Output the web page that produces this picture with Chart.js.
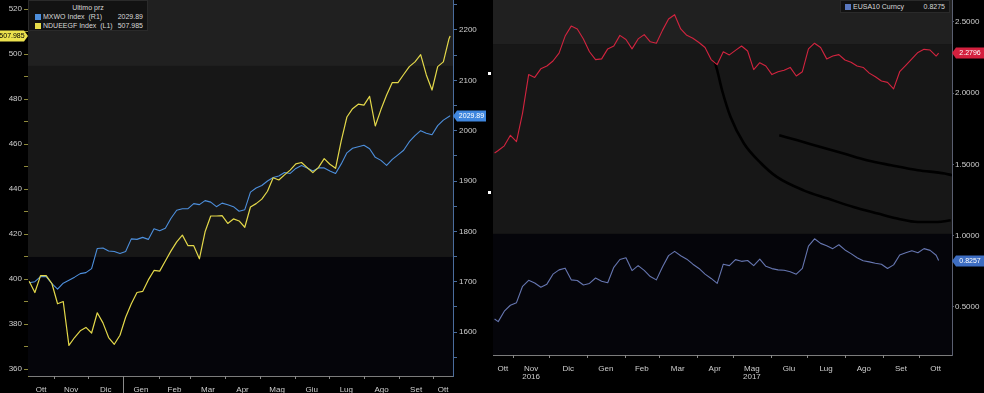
<!DOCTYPE html>
<html><head><meta charset="utf-8">
<title>MXWO / NDUEEGF / EUSA10</title>
<script src="https://cdn.jsdelivr.net/npm/chart.js@4.4.1/dist/chart.umd.min.js"></script>
<style>
html,body{margin:0;padding:0;background:#000;}
body{position:relative;width:984px;height:393px;overflow:hidden;font-family:'Liberation Sans',Arial,sans-serif;}
canvas{position:absolute;top:0;}
#cL{left:0}
#cR{left:492px}
.leg{position:absolute;background:#121212;border:1px solid #2a2a2a;color:#d8d8d8;font-size:7px;line-height:8px;white-space:nowrap;box-sizing:border-box;}
.sq{position:absolute;width:6px;height:6px;}
.t{position:absolute;}
.dot{position:absolute;width:3px;height:3px;background:#fff;}
</style></head><body>
<canvas id="cL" width="492" height="393"></canvas>
<canvas id="cR" width="492" height="393"></canvas>
<div class="leg" style="left:28px;top:0;width:120px;height:31px">
  <div class="t" style="left:0;width:118px;top:3px;text-align:center">Ultimo prz</div>
  <div class="sq" style="left:6px;top:13px;background:#4d8fdc"></div>
  <div class="t" style="left:14px;top:12px">MXWO Index&nbsp;&nbsp;(R1)</div>
  <div class="t" style="right:4px;top:12px">2029.89</div>
  <div class="sq" style="left:6px;top:22px;background:#e6dc4a"></div>
  <div class="t" style="left:14px;top:21px">NDUEEGF Index&nbsp;&nbsp;(L1)</div>
  <div class="t" style="right:4px;top:21px">507.985</div>
</div>
<div class="leg" style="left:840px;top:0;width:110px;height:13px">
  <div class="sq" style="left:4px;top:3px;background:#5a78c0"></div>
  <div class="t" style="left:12px;top:2px">EUSA10 Curncy</div>
  <div class="t" style="right:4px;top:2px">0.8275</div>
</div>
<div class="dot" style="left:488px;top:72px"></div>
<div class="dot" style="left:488px;top:191px"></div>
<script>
// ---------------- data ----------------
const MONTH_LABELS = ['Ott','Nov','Dic','Gen','Feb','Mar','Apr','Mag','Giu','Lug','Ago','Set','Ott'];
const YEAR_LABELS  = ['','2016','','','','','','2017','','','','',''];
const MONTH_STARTS = ['2016-10-01','2016-11-01','2016-12-01','2017-01-01','2017-02-01','2017-03-01','2017-04-01','2017-05-01','2017-06-01','2017-07-01','2017-08-01','2017-09-01','2017-10-01','2017-11-01'];

const NDUEEGF_TICKS = [360,380,400,420,440,460,480,500,520];
const MXWO_TICKS = [1600,1700,1800,1900,2000,2100,2200];
const RATE_TICKS = [0.5,1.0,1.5,2.0,2.5];

const LEFT_DATES = ['2016-10-10','2016-10-15','2016-10-20','2016-10-25','2016-10-30','2016-11-04','2016-11-09','2016-11-14','2016-11-19','2016-11-24','2016-11-29','2016-12-04','2016-12-09','2016-12-14','2016-12-19','2016-12-24','2016-12-29','2017-01-03','2017-01-08','2017-01-13','2017-01-18','2017-01-23','2017-01-28','2017-02-02','2017-02-07','2017-02-12','2017-02-17','2017-02-22','2017-02-27','2017-03-04','2017-03-09','2017-03-14','2017-03-19','2017-03-24','2017-03-29','2017-04-03','2017-04-08','2017-04-13','2017-04-18','2017-04-23','2017-04-28','2017-05-03','2017-05-08','2017-05-13','2017-05-18','2017-05-23','2017-05-28','2017-06-02','2017-06-07','2017-06-12','2017-06-17','2017-06-22','2017-06-27','2017-07-02','2017-07-07','2017-07-12','2017-07-17','2017-07-22','2017-07-27','2017-08-01','2017-08-06','2017-08-11','2017-08-16','2017-08-21','2017-08-26','2017-08-31','2017-09-05','2017-09-10','2017-09-15','2017-09-20','2017-09-25','2017-09-30','2017-10-05','2017-10-10','2017-10-15','2017-10-16'];

const NDUEEGF = [399,394,401.5,401.5,398,389,390,370.5,374,377,378.5,376,385,380.5,374,371,375,383,389,394,394.5,399.6,403.8,403.5,408,412.5,416.5,419.5,414.8,414.8,409,421,428,428,428.2,424.7,426.7,425.8,423,432,433.5,435.5,439,445,444,446.3,448.4,451.2,451.8,449.5,447.3,449.6,453.5,451,449.2,461.4,472,475.7,477.7,477.3,481.2,468,475.3,481.8,487.3,487.3,490.9,494.4,496.5,499.7,490.7,484,494.4,496.5,506.8,507.985];

const MXWO = [1698,1700,1710,1710,1696,1685,1697,1703,1709,1716,1718,1726,1766,1767,1761,1760,1756,1760,1785,1784,1788,1784,1805,1801,1806,1826,1842,1845,1845,1855,1853,1861,1858,1849,1856,1853,1849,1840,1843,1878,1886,1891,1900,1907,1910,1917,1915,1925,1931,1926,1920,1926,1926,1920,1915,1934,1956,1965,1968,1971,1964,1947,1941,1931,1943,1952,1961,1978,1990,2000,1995,1992,2010,2021,2028,2029.89];

const RIGHT_DATES = ['2016-10-17','2016-10-20','2016-10-25','2016-10-30','2016-11-04','2016-11-09','2016-11-14','2016-11-19','2016-11-24','2016-11-29','2016-12-04','2016-12-09','2016-12-14','2016-12-19','2016-12-24','2016-12-29','2017-01-03','2017-01-08','2017-01-13','2017-01-18','2017-01-23','2017-01-28','2017-02-02','2017-02-07','2017-02-12','2017-02-17','2017-02-22','2017-02-27','2017-03-04','2017-03-09','2017-03-14','2017-03-19','2017-03-24','2017-03-29','2017-04-03','2017-04-08','2017-04-13','2017-04-18','2017-04-23','2017-04-28','2017-05-03','2017-05-08','2017-05-13','2017-05-18','2017-05-23','2017-05-28','2017-06-02','2017-06-07','2017-06-12','2017-06-17','2017-06-22','2017-06-27','2017-07-02','2017-07-07','2017-07-12','2017-07-17','2017-07-22','2017-07-27','2017-08-01','2017-08-06','2017-08-11','2017-08-16','2017-08-21','2017-08-26','2017-08-31','2017-09-05','2017-09-10','2017-09-15','2017-09-20','2017-09-25','2017-09-30','2017-10-05','2017-10-10','2017-10-15','2017-10-17'];

const US10 = [1.58,1.597,1.63,1.704,1.66,1.86,2.13,2.11,2.17,2.19,2.225,2.28,2.40,2.47,2.45,2.38,2.29,2.235,2.24,2.31,2.33,2.405,2.376,2.31,2.38,2.41,2.36,2.35,2.44,2.52,2.55,2.45,2.405,2.385,2.355,2.32,2.235,2.20,2.29,2.268,2.30,2.33,2.295,2.165,2.213,2.19,2.13,2.15,2.16,2.18,2.12,2.15,2.31,2.35,2.32,2.24,2.26,2.27,2.232,2.217,2.19,2.18,2.14,2.115,2.085,2.075,2.03,2.15,2.195,2.24,2.285,2.307,2.302,2.26,2.2796];

const EUSA10 = [0.415,0.397,0.47,0.512,0.53,0.645,0.687,0.668,0.638,0.66,0.73,0.76,0.772,0.69,0.686,0.654,0.665,0.703,0.68,0.67,0.778,0.833,0.845,0.755,0.79,0.757,0.713,0.69,0.781,0.86,0.89,0.859,0.835,0.80,0.77,0.73,0.70,0.665,0.80,0.79,0.832,0.82,0.826,0.79,0.835,0.785,0.769,0.76,0.757,0.747,0.73,0.77,0.926,0.978,0.946,0.93,0.909,0.936,0.90,0.874,0.845,0.824,0.816,0.806,0.80,0.77,0.795,0.865,0.88,0.894,0.88,0.909,0.897,0.863,0.8257];

// hand-drawn black annotation curves
const CURVE_A_DATES = ['2017-04-16','2017-04-18','2017-04-22','2017-04-29','2017-05-10','2017-05-24','2017-06-06','2017-06-28','2017-07-18','2017-08-08','2017-08-28','2017-09-13','2017-09-30','2017-10-16','2017-10-27'];
const CURVE_A = [2.22,2.16,2.02,1.832,1.646,1.508,1.412,1.318,1.26,1.201,1.155,1.12,1.096,1.096,1.108];
const CURVE_B_DATES = ['2017-06-08','2017-06-23','2017-07-12','2017-07-31','2017-08-19','2017-09-08','2017-09-30','2017-10-22','2017-10-28'];
const CURVE_B = [1.704,1.669,1.622,1.576,1.529,1.494,1.459,1.436,1.424];

// ---------------- helpers ----------------
const FONT = "'Liberation Sans', Arial, sans-serif";
const TXT = '#cfcfcf';
const T0 = Date.UTC(2016, 9, 1);
const day = s => { const [y,m,d] = s.split('-').map(Number); return (Date.UTC(y,m-1,d)-T0)/86400000; };
const pts = (dates, vals) => dates.map((d,i)=>({x:day(d), y:vals[i]}));

function monthTicks(min, max){
  const out=[];
  for(let i=0;i<MONTH_LABELS.length;i++){
    const a=Math.max(day(MONTH_STARTS[i]),min), b=Math.min(day(MONTH_STARTS[i+1]),max);
    if(b<=a) continue;
    out.push({value:(a+b)/2, txt: YEAR_LABELS[i] ? [MONTH_LABELS[i], YEAR_LABELS[i]] : MONTH_LABELS[i]});
  }
  return out;
}
function xScale(min,max,h){
  return {type:'linear',min,max,bounds:'data',
    afterBuildTicks:s=>{s.ticks=monthTicks(min,max);},
    ticks:{autoSkip:false,maxRotation:0,minRotation:0,padding:2,color:TXT,font:{family:FONT,size:8,lineHeight:1},callback:(v,i,t)=>t[i].txt},
    grid:{display:false},
    border:{display:true,color:'#7c7c7c',width:1},
    afterFit:s=>{s.height=h;s.paddingLeft=0;s.paddingRight=0;s.paddingTop=0;s.paddingBottom=0;}
  };
}
function yScale(pos,min,max,major,withMinor,fmt,col,tl,pad,w){
  return {type:'linear',position:pos,min,max,bounds:'data',
    afterBuildTicks:s=>{
      const t=[];
      major.forEach((v,i)=>{ t.push({value:v}); if(withMinor && i<major.length-1) t.push({value:(v+major[i+1])/2}); });
      if(withMinor){ const st=(major[1]-major[0])/2; if(major[0]-st>=min) t.unshift({value:major[0]-st}); if(major[major.length-1]+st<=max) t.push({value:major[major.length-1]+st}); }
      s.ticks=t;
    },
    ticks:{autoSkip:false,padding:pad,color:TXT,font:{family:FONT,size:8},callback:v=>major.includes(v)?fmt(v):''},
    grid:{display:true,drawOnChartArea:false,drawTicks:true,tickLength:tl,color:col},
    border:{display:true,color:col,width:1},
    afterFit:s=>{s.width=w;s.paddingTop=0;s.paddingBottom=0;s.paddingLeft=0;s.paddingRight=0;}
  };
}

const bandsPlugin={id:'bands',beforeDatasetsDraw(chart,args,opts){
  const {ctx,chartArea:a}=chart; const h=a.bottom-a.top; let y0=a.top;
  ctx.save();
  opts.stops.forEach(([f,c])=>{ const y1=a.top+h*f; ctx.fillStyle=c; ctx.fillRect(a.left,y0,a.right-a.left,y1-y0); y0=y1; });
  ctx.restore();
}};
const marksPlugin={id:'marks',afterDraw(chart,args,opts){
  const {ctx}=chart; const sc=chart.scales.x;
  ctx.save(); ctx.strokeStyle='#8a8a8a'; ctx.lineWidth=1;
  MONTH_STARTS.forEach(m=>{ const d=day(m); if(d<=sc.min||d>=sc.max) return;
    const px=Math.round(sc.getPixelForValue(d))+0.5;
    const long = opts.yearSep && m==='2017-01-01';
    ctx.beginPath(); ctx.moveTo(px,sc.top); ctx.lineTo(px,long?chart.height:sc.top+3); ctx.stroke(); });
  ctx.restore();
}};
const tagsPlugin={id:'tags',afterDraw(chart,args,opts){
  const {ctx}=chart;
  opts.items.forEach(it=>{
    const ds=chart.data.datasets[it.ds]; const last=ds.data[ds.data.length-1].y;
    const sc=chart.scales[it.axis]; const y=Math.round(sc.getPixelForValue(last));
    const txt=last.toFixed(it.dec); const hh=5.5;
    ctx.save(); ctx.fillStyle=it.bg; ctx.beginPath();
    ctx.font='7px '+FONT; ctx.textAlign='center'; ctx.textBaseline='middle';
    if(it.side==='left'){ const x1=sc.right; const x0=sc.left;
      ctx.moveTo(x0,y-hh); ctx.lineTo(x1-4,y-hh); ctx.lineTo(x1,y); ctx.lineTo(x1-4,y+hh); ctx.lineTo(x0,y+hh);
      ctx.closePath(); ctx.fill(); ctx.fillStyle=it.fg; ctx.fillText(txt,(x0+x1-4)/2,y+0.5);
    } else { const x0=sc.left; const x1=x0+it.w;
      ctx.moveTo(x0,y); ctx.lineTo(x0+4,y-hh); ctx.lineTo(x1,y-hh); ctx.lineTo(x1,y+hh); ctx.lineTo(x0+4,y+hh);
      ctx.closePath(); ctx.fill(); ctx.fillStyle=it.fg; ctx.fillText(txt,(x0+4+x1)/2,y+0.5);
    }
    ctx.restore();
  });
}};

const common={responsive:false,maintainAspectRatio:false,devicePixelRatio:1,animation:false,
  elements:{point:{radius:0},line:{tension:0,borderJoinStyle:'round'}}};

// ---------------- left chart ----------------
new Chart(document.getElementById('cL'),{
  type:'line',
  data:{datasets:[
    {label:'NDUEEGF Index (L1)',data:pts(LEFT_DATES,NDUEEGF),yAxisID:'yL',borderColor:'#e3d84a',borderWidth:1.2,fill:false},
    {label:'MXWO Index (R1)',data:pts(LEFT_DATES,MXWO),yAxisID:'yR',borderColor:'#4d8fdc',borderWidth:1.1,fill:false}
  ]},
  options:Object.assign({},common,{
    layout:{padding:{left:0,right:0,top:0,bottom:0}},
    scales:{
      x:xScale(7.95,382.5,17),
      yL:yScale('left',356.9,524,NDUEEGF_TICKS,true,v=>String(v),'#8f8a3c',4,2,28),
      yR:yScale('right',1512.6,2259.6,MXWO_TICKS,true,v=>String(v),'#4a6c9c',4,2,39)
    },
    plugins:{legend:{display:false},tooltip:{enabled:false},
      bands:{stops:[[0.1755,'#202020'],[0.6835,'#171717'],[1,'#05050a']]},
      marks:{yearSep:true},
      tags:{items:[{ds:0,axis:'yL',side:'left',bg:'#ece24e',fg:'#000',dec:3},{ds:1,axis:'yR',side:'right',w:33,bg:'#3f86de',fg:'#fff',dec:2}]}
    }
  }),
  plugins:[bandsPlugin,marksPlugin,tagsPlugin]
});

// ---------------- right chart ----------------
new Chart(document.getElementById('cR'),{
  type:'line',
  data:{datasets:[
    {label:'US10',data:pts(RIGHT_DATES,US10),yAxisID:'y',borderColor:'#d2243f',borderWidth:1.1,fill:false},
    {label:'EUSA10 Curncy',data:pts(RIGHT_DATES,EUSA10),yAxisID:'y',borderColor:'#6676b0',borderWidth:1.1,fill:false},
    {label:'a',data:pts(CURVE_A_DATES,CURVE_A),yAxisID:'y',borderColor:'#000',borderWidth:2.6,tension:0.4,cubicInterpolationMode:'monotone',fill:false},
    {label:'b',data:pts(CURVE_B_DATES,CURVE_B),yAxisID:'y',borderColor:'#000',borderWidth:2.6,tension:0.4,cubicInterpolationMode:'monotone',fill:false}
  ]},
  options:Object.assign({},common,{
    layout:{padding:{left:1,right:0,top:0,bottom:0}},
    scales:{
      x:xScale(14.7,392,38),
      y:yScale('right',0.163,2.653,RATE_TICKS,false,v=>v.toFixed(4),'#5a5f70',2,1,32)
    },
    plugins:{legend:{display:false},tooltip:{enabled:false},
      bands:{stops:[[0.124,'#202020'],[0.659,'#171717'],[1,'#05050a']]},
      marks:{yearSep:false},
      tags:{items:[{ds:0,axis:'y',side:'right',w:32,bg:'#d4203e',fg:'#fff',dec:4},{ds:1,axis:'y',side:'right',w:32,bg:'#3d6dc2',fg:'#fff',dec:4}]}
    }
  }),
  plugins:[bandsPlugin,marksPlugin,tagsPlugin]
});
</script>
</body></html>
